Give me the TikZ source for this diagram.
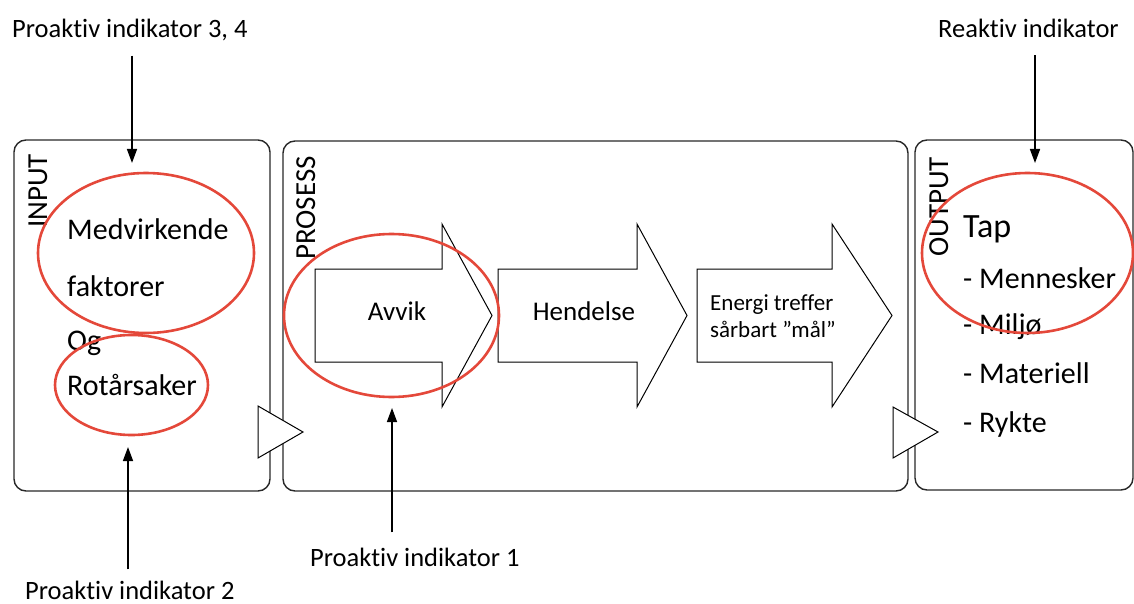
\documentclass[tikz,border=0pt]{standalone}
\usepackage{fontspec}
\setmainfont{Carlito}[Ligatures=NoCommon]
\usetikzlibrary{shapes.geometric,arrows.meta}
\definecolor{ringred}{RGB}{228,72,58}
\definecolor{edge}{RGB}{40,40,40}
\begin{document}
\begin{tikzpicture}[x=1pt,y=-1pt,
  stage/.style={draw=edge, line width=1.4pt, rounded corners=12pt, inner sep=0pt},
  stagetitle/.style={rotate=90, anchor=base west, inner sep=0pt, font=\fontsize{29}{34}\selectfont},
  bodytext/.style={anchor=base west, inner sep=0pt, font=\fontsize{30}{36}\selectfont},
  bigtext/.style={anchor=base west, inner sep=0pt, font=\fontsize{34}{40}\selectfont},
  flowtext/.style={anchor=base, inner sep=0pt, font=\fontsize{27}{32}\selectfont},
  smalltext/.style={anchor=base west, inner sep=0pt, font=\fontsize{23}{28}\selectfont},
  labeltext/.style={anchor=base west, inner sep=0pt, font=\fontsize{26.5}{32}\selectfont},
  ring/.style={ellipse, draw=ringred, line width=2.6pt, inner sep=0pt},
  blockarrow/.style={draw=black, line width=1pt, fill=white},
  gate/.style={draw=black, line width=1pt, fill=white},
  ind/.style={draw=black, line width=1.5pt, -{Triangle[length=14pt,width=10pt]}},
]
\useasboundingbox (0,0) rectangle (1134,604);

% three stages
\node[stage, minimum width=256pt, minimum height=351pt] (input) at (142,315.5) {};
\node[stage, minimum width=625pt, minimum height=350pt] (prosess) at (595.5,316) {};
\node[stage, minimum width=218pt, minimum height=350pt] (output) at (1024,315) {};

\node[stagetitle] (tin) at (47,228) {INPUT};
\node[stagetitle] (tpr) at (315,260) {PROSESS};
\node[stagetitle] (tout) at (948,257) {OUTPUT};

% flow between stages
\draw[gate] (258,406) -- (303,432) -- (258,458) -- cycle;
\draw[gate] (893,407) -- (938,432) -- (893,458) -- cycle;

% block arrows of the process
\draw[blockarrow] (315,269) -- (442,269) -- (442,224) -- (492,315.5) -- (442,407) -- (442,362) -- (315,362) -- cycle;
\draw[blockarrow] (498,269) -- (637,269) -- (637,224) -- (687,315.5) -- (637,407) -- (637,362) -- (498,362) -- cycle;
\draw[blockarrow] (697,269) -- (832,269) -- (832,224) -- (892,315.5) -- (832,407) -- (832,362) -- (697,362) -- cycle;

\node[flowtext] (avvik) at (397,320) {Avvik};
\node[flowtext] (hendelse) at (584,320) {Hendelse};
\node[smalltext] (energi1) at (710,310) {Energi treffer};
\node[smalltext] (energi2) at (710,337) {sårbart ”mål”};

% input texts
\node[bodytext] (med) at (67,239) {Medvirkende};
\node[bodytext] (fak) at (67,296) {faktorer};
\node[bodytext] (og) at (67,350) {Og};
\node[bodytext] (rot) at (67,395) {Rotårsaker};

% output texts
\node[bigtext] (tap) at (963,237) {Tap};
\node[bodytext] (menn) at (963,288) {- Mennesker};
\node[bodytext] (milj) at (963,334) {- Miljø};
\node[bodytext] (mat) at (963,383) {- Materiell};
\node[bodytext] (ryk) at (963,432) {- Rykte};

% red rings
\node[ring, minimum width=216pt, minimum height=160pt] (r1) at (146,253) {};
\node[ring, minimum width=153pt, minimum height=100pt] (r2) at (131.5,385) {};
\node[ring, minimum width=215pt, minimum height=163pt] (r3) at (391.5,315.5) {};
\node[ring, minimum width=211pt, minimum height=160pt] (r4) at (1027.5,253) {};

% indicators
\node[labeltext] (lab34) at (12,38) {Proaktiv indikator 3, 4};
\node[labeltext] (labR) at (938,38) {Reaktiv indikator};
\node[labeltext] (lab1) at (310,566) {Proaktiv indikator 1};
\node[labeltext] (lab2) at (25,599) {Proaktiv indikator 2};

\coordinate (tip34) at (132,163);
\coordinate (tipR) at (1035,163);
\coordinate (tip1) at (392,408);
\coordinate (tip2) at (128,447);

\draw[ind, shorten <=14pt] (lab34.south -| tip34) -- (tip34);
\draw[ind, shorten <=17pt] (labR.south -| tipR) -- (tipR);
\draw[ind, shorten <=15pt] (lab1.north -| tip1) -- (tip1);
\draw[ind, shorten <=11pt] (lab2.north -| tip2) -- (tip2);
\end{tikzpicture}
\end{document}
